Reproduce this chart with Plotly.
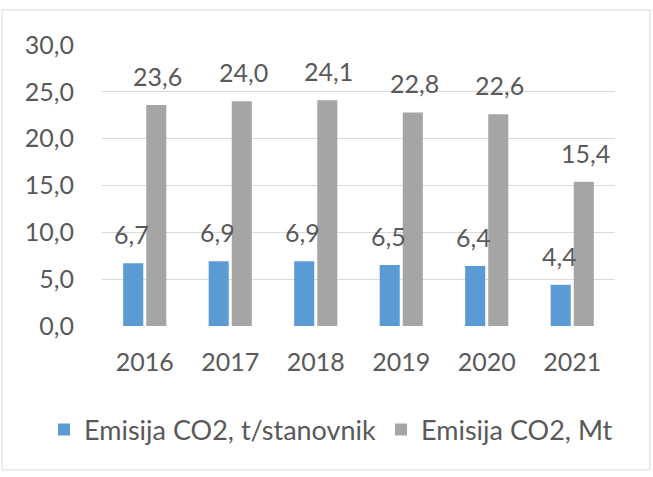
import plotly.graph_objects as go

years = ["2016", "2017", "2018", "2019", "2020", "2021"]
per_capita = [6.7, 6.9, 6.9, 6.5, 6.4, 4.4]
total_mt = [23.6, 24.0, 24.1, 22.8, 22.6, 15.4]
series_names = ["Emisija CO2, t/stanovnik", "Emisija CO2, Mt"]
colors = ["#5B9BD5", "#A5A5A5"]

FONT = "Lato"
TXT = "#595959"

def fmt(v):
    return f"{v:.1f}".replace(".", ",")

fig = go.Figure()
for name, vals, col in zip(series_names, [per_capita, total_mt], colors):
    fig.add_trace(go.Bar(x=years, y=vals, name=name, marker=dict(color=col, line=dict(width=0))))

annotations = []
for vals, dx in [(per_capita, -13), (total_mt, 13)]:
    for i, v in enumerate(vals):
        annotations.append(dict(x=i, y=v, xref="x", yref="y", text=fmt(v), showarrow=False,
                                xshift=dx, yshift=29, yanchor="middle",
                                font=dict(family=FONT, size=25, color=TXT)))

fig.update_layout(
    width=653, height=477,
    margin=dict(l=102, r=38, t=45, b=151, autoexpand=False),
    paper_bgcolor="white", plot_bgcolor="white",
    separators=", ",
    barmode="group", bargap=0.46, bargroupgap=0.13,
    font=dict(family=FONT, size=25, color=TXT),
    showlegend=True,
    legend=dict(orientation="h", x=-0.113, xanchor="left", y=-0.37, yanchor="middle",
                font=dict(family=FONT, size=27, color=TXT), itemwidth=30, traceorder="normal"),
    annotations=annotations,
    shapes=[dict(type="rect", xref="paper", yref="paper", x0=-0.195, x1=1.068, y0=-0.512, y1=1.125,
                 line=dict(color="#D9D9D9", width=1), fillcolor="rgba(0,0,0,0)", layer="below")],
)
fig.update_yaxes(range=[0, 30], dtick=5, tickformat=".1f", showgrid=True, gridcolor="#D9D9D9",
                 gridwidth=1, zeroline=False, showline=False, ticks="", ticklabelstandoff=27,
                 tickfont=dict(family=FONT, size=25, color=TXT))
fig.update_xaxes(type="category", range=[-0.5, 5.5], showgrid=False, showline=False, ticks="",
                 ticklabelstandoff=19, tickfont=dict(family=FONT, size=25, color=TXT))

fig.write_html("out.html", config={"displayModeBar": False},
               post_script="document.body.style.margin='0';")
